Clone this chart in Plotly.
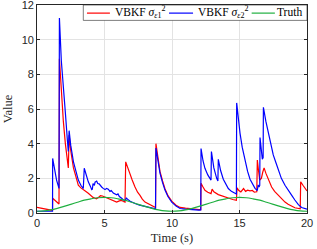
import plotly.graph_objects as go

# ---- data ----
t_blue = [0.0, 0.5, 1.0, 1.15, 1.16, 1.3, 1.45, 1.63, 1.66, 1.8, 1.95, 2.1, 2.25, 2.32, 2.38, 2.5,
          2.7, 2.9, 3.06, 3.25, 3.43, 3.5, 3.65, 3.8, 3.95, 4.05, 4.1, 4.15, 4.25, 4.3, 4.42, 4.5,
          4.6, 4.7, 4.79, 4.9, 5.04, 5.15, 5.28, 5.4, 5.5, 5.65, 5.78, 5.9, 6.0, 6.1, 6.27, 6.4,
          6.55, 6.62, 6.7, 6.9, 7.26, 7.6, 8.0, 8.4, 8.78, 8.81, 8.95, 9.11, 9.3, 9.48, 9.7, 9.98,
          10.3, 10.6, 11.0, 11.5, 12.0, 12.13, 12.15, 12.3, 12.44, 12.65, 12.89, 12.92, 13.1, 13.31,
          13.4, 13.43, 13.6, 13.8, 14.0, 14.17, 14.4, 14.67, 14.77, 14.79, 14.9, 15.04, 15.2, 15.4,
          15.6, 15.78, 16.0, 16.15, 16.32, 16.38, 16.45, 16.5, 16.52, 16.6, 16.69, 16.75, 16.77,
          16.95, 17.14, 17.3, 17.5, 17.7, 17.88, 18.1, 18.37, 18.6, 18.87, 19.1, 19.36, 19.6, 19.8, 20.0]
v_blue = [0.10, 0.10, 0.10, 0.11, 3.15, 2.5, 1.9, 1.42, 11.25, 8.8, 7.0, 5.8, 4.2, 3.55, 4.75, 3.9,
          2.95, 2.3, 1.9, 1.6, 1.41, 2.58, 2.1, 1.8, 1.55, 1.35, 1.38, 1.7, 1.6, 1.78, 1.84, 1.7,
          1.68, 1.55, 1.5, 1.42, 1.35, 1.42, 1.37, 1.25, 1.3, 1.15, 1.12, 1.05, 1.1, 0.95, 0.85, 0.75,
          0.72, 0.88, 0.8, 0.68, 0.55, 0.45, 0.38, 0.30, 0.24, 3.75, 3.0, 2.3, 1.75, 1.32, 0.95, 0.63,
          0.4, 0.26, 0.22, 0.18, 0.17, 0.18, 3.72, 3.0, 2.58, 2.2, 1.9, 3.55, 2.6, 2.0,
          1.85, 3.1, 2.45, 1.95, 1.62, 1.41, 1.25, 1.12, 1.1, 6.35, 5.4, 4.6, 3.8, 3.0,
          2.4, 1.95, 1.65, 1.42, 1.3, 1.62, 1.5, 1.6, 4.35, 3.7, 3.1, 3.2, 6.1,
          5.3, 4.6, 4.0, 3.35, 2.9, 2.48, 2.0, 1.6, 1.3, 1.02, 0.75, 0.48, 0.32, 0.26, 0.22]

t_red = [0.0, 0.3, 0.6, 0.9, 1.15, 1.16, 1.3, 1.45, 1.63, 1.66, 1.8, 1.95, 2.1, 2.25, 2.32, 2.38,
         2.5, 2.7, 2.9, 3.06, 3.25, 3.43, 3.6, 3.8, 4.0, 4.15, 4.3, 4.4, 4.55, 4.7, 4.85, 5.04,
         5.2, 5.5, 5.7, 5.9, 6.1, 6.27, 6.4, 6.52, 6.57, 6.7, 6.89, 7.05, 7.26, 7.45, 7.63, 7.8,
         8.0, 8.2, 8.37, 8.55, 8.78, 8.81, 8.95, 9.11, 9.3, 9.48, 9.7, 9.98, 10.3, 10.6, 11.0, 11.5,
         12.0, 12.13, 12.15, 12.3, 12.44, 12.65, 12.89, 12.97, 13.1, 13.43, 13.7, 13.92, 14.2, 14.5,
         14.77, 14.82, 14.95, 15.1, 15.3, 15.45, 15.6, 15.78, 15.95, 16.1, 16.28, 16.32, 16.4, 16.5,
         16.55, 16.62, 16.72, 16.82, 16.95, 17.14, 17.38, 17.6, 17.88, 18.1, 18.37, 18.6, 18.87,
         19.1, 19.5, 19.53, 19.7, 19.85, 20.0]
v_red = [0.33, 0.28, 0.22, 0.18, 0.15, 0.85, 0.75, 0.65, 0.52, 8.9, 6.8, 5.3, 4.0, 2.9, 2.6, 4.5,
         3.6, 2.6, 1.95, 1.6, 1.45, 1.32, 1.25, 1.14, 0.98, 0.9, 0.85, 0.82, 0.9, 1.0, 0.98, 0.92,
         0.85, 0.77, 0.7, 0.63, 0.7, 0.73, 0.66, 0.63, 2.95, 2.65, 2.28, 1.9, 1.5, 1.2, 1.02, 0.8,
         0.63, 0.55, 0.5, 0.42, 0.32, 4.0, 3.1, 2.4, 1.85, 1.4, 1.0, 0.68, 0.45, 0.32, 0.28, 0.22,
         0.2, 0.2, 1.72, 1.5, 1.31, 1.2, 1.12, 1.38, 1.22, 1.06, 0.98, 0.92, 0.85, 0.78,
         0.73, 1.45, 1.3, 1.22, 1.41, 1.25, 1.32, 1.28, 1.3, 1.2, 1.22, 3.05, 2.5, 1.9,
         1.95, 2.0, 2.35, 2.6, 2.3, 1.9, 1.5, 1.25, 1.02, 0.82, 0.63, 0.5, 0.38,
         0.3, 0.24, 1.8, 1.6, 1.42, 1.27]

t_truth = [0.0, 0.5, 1.0, 1.5, 2.0, 2.5, 3.0, 3.5, 4.0, 4.5, 5.0, 5.5, 6.0, 6.5, 7.0, 7.5, 8.0,
           8.5, 9.0, 9.5, 10.0, 10.5, 11.0, 11.5, 12.0, 12.5, 13.0, 13.5, 14.0, 14.5, 15.0, 15.5,
           16.0, 16.5, 17.0, 17.5, 18.0, 18.5, 19.0, 19.5, 20.0]
v_truth = [0.10, 0.12, 0.18, 0.27, 0.38, 0.50, 0.62, 0.74, 0.82, 0.88, 0.90, 0.88, 0.82, 0.74,
           0.62, 0.50, 0.38, 0.27, 0.18, 0.12, 0.10, 0.12, 0.18, 0.27, 0.38, 0.50, 0.62, 0.74,
           0.82, 0.88, 0.90, 0.88, 0.82, 0.74, 0.62, 0.50, 0.38, 0.27, 0.18, 0.12, 0.10]

series_names = ["VBKF <i>σ</i><sub><i>ε</i>1</sub><sup>2</sup>",
                "VBKF <i>σ</i><sub><i>ε</i>2</sub><sup>2</sup>",
                "Truth"]
series_colors = ["#ff0000", "#0000ff", "#20b040"]

x_ticks = [0, 5, 10, 15, 20]
y_ticks = [0, 2, 4, 6, 8, 10, 12]

serif = "Liberation Serif, Times New Roman, serif"
sans = "Liberation Sans, Arial, sans-serif"
axcol = "#262626"

fig = go.Figure()
fig.add_trace(go.Scatter(x=t_red, y=v_red, mode="lines",
                         line=dict(color=series_colors[0], width=1.2), name=series_names[0]))
fig.add_trace(go.Scatter(x=t_blue, y=v_blue, mode="lines",
                         line=dict(color=series_colors[1], width=1.2), name=series_names[1]))
fig.add_trace(go.Scatter(x=t_truth, y=v_truth, mode="lines", line_shape="spline",
                         line=dict(color=series_colors[2], width=1.2), name=series_names[2]))

# ---- compact legend drawn in paper coordinates (layout, not data) ----
leg_box = dict(x0=0.1715, x1=1.0, y0=0.926, y1=1.0)
leg_lines = [(0.185, 0.270), (0.489, 0.578), (0.795, 0.881)]
leg_text_x = [0.282, 0.589, 0.883]
leg_y = 0.961

shapes = [dict(type="rect", xref="paper", yref="paper", layer="above",
               line=dict(color=axcol, width=0.6), fillcolor="white", **leg_box)]
annotations = []
for (a, b), tx, name, col in zip(leg_lines, leg_text_x, series_names, series_colors):
    shapes.append(dict(type="line", xref="paper", yref="paper", layer="above",
                       x0=a, x1=b, y0=leg_y, y1=leg_y, line=dict(color=col, width=1.2)))
    annotations.append(dict(xref="paper", yref="paper", x=tx, y=leg_y + 0.004,
                            xanchor="left", yanchor="middle", showarrow=False,
                            text=name, font=dict(family=serif, size=11.5, color="black")))

axis_common = dict(showline=True, linecolor=axcol, linewidth=0.8, mirror="ticks",
                   ticks="inside", ticklen=3, tickcolor=axcol, tickwidth=0.8,
                   showgrid=True, gridcolor="#e3e3e3", gridwidth=0.8, zeroline=False,
                   automargin=False, ticklabeloverflow="allow",
                   tickfont=dict(family=sans, size=11, color=axcol))

fig.update_layout(
    width=317, height=249,
    margin=dict(l=37, r=10, t=5, b=36, pad=0),
    paper_bgcolor="white", plot_bgcolor="white",
    showlegend=False,
    shapes=shapes, annotations=annotations,
    xaxis=dict(range=[0, 20], tickvals=x_ticks,
               title=dict(text="Time (s)", font=dict(family=serif, size=12.5, color=axcol), standoff=5),
               **axis_common),
    yaxis=dict(range=[0, 12], tickvals=y_ticks,
               title=dict(text="Value", font=dict(family=serif, size=12.5, color=axcol), standoff=6),
               **axis_common),
)

fig.write_html("out.html", config={"displayModeBar": False},
               post_script="document.body.style.margin='0';")
